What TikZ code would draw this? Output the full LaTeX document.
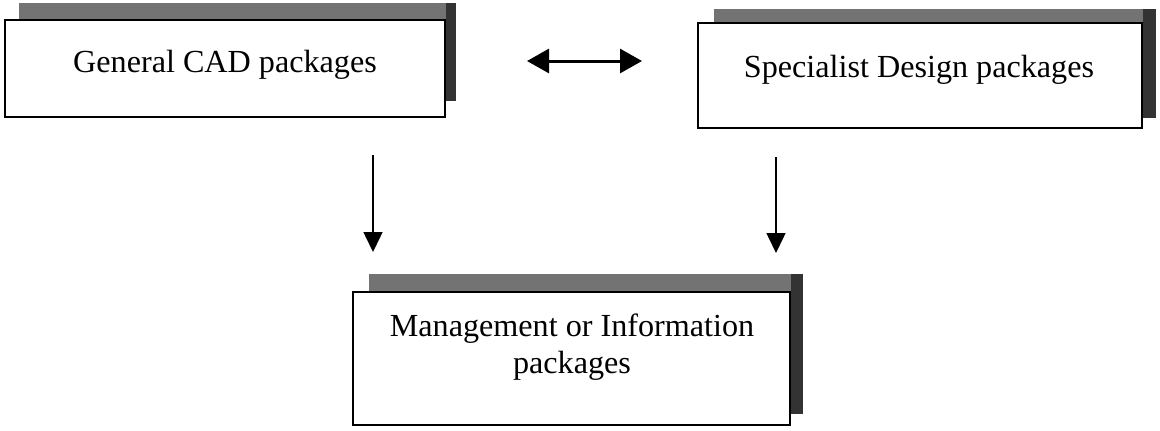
\documentclass[tikz,border=0pt]{standalone}
\usepackage{fontspec}
\setmainfont{Liberation Serif}
\usetikzlibrary{arrows.meta,backgrounds}

\tikzset{
  pkgbox/.style={draw, line width=0.3mm, fill=white, inner sep=0pt},
  pkgtext/.style={inner sep=0pt, font=\fontsize{18.3}{21}\selectfont, align=center},
  topshade/.style={fill=black!55},
  sideshade/.style={fill=black!80},
  linkarrow/.style={line width=0.3mm, -{Triangle[length=4mm,width=3.8mm]}},
  swaparrow/.style={line width=0.6mm, {Triangle[length=4.4mm,width=4.8mm]}-{Triangle[length=4.4mm,width=4.8mm]}}
}

\begin{document}
\begin{tikzpicture}[x=0.2mm, y=-0.2mm]
    \useasboundingbox (0,0) rectangle (1160,430);

    % Boxes
    \node[pkgbox, minimum width=88mm, minimum height=19.4mm] (cad) at (225,68.5) {};
    \node[pkgbox, minimum width=88.8mm, minimum height=21mm] (spec) at (920,75.5) {};
    \node[pkgbox, minimum width=87.4mm, minimum height=26.6mm] (mgmt) at (571.5,358.5) {};

    % Shadows behind the boxes
    \begin{scope}[on background layer]
        \fill[topshade] ([shift={(3mm,3.2mm)}]cad.north west) rectangle ([shift={(2mm,3.4mm)}]cad.south east);
        \fill[sideshade] ([yshift=3.2mm]cad.north east) rectangle ([shift={(2mm,3.4mm)}]cad.south east);
        \fill[topshade] ([shift={(3.4mm,2.6mm)}]spec.north west) rectangle ([shift={(2.6mm,2.2mm)}]spec.south east);
        \fill[sideshade] ([yshift=2.6mm]spec.north east) rectangle ([shift={(2.6mm,2.2mm)}]spec.south east);
        \fill[topshade] ([shift={(3.4mm,3.4mm)}]mgmt.north west) rectangle ([shift={(2.4mm,2.4mm)}]mgmt.south east);
        \fill[sideshade] ([yshift=3.4mm]mgmt.north east) rectangle ([shift={(2.4mm,2.4mm)}]mgmt.south east);
    \end{scope}

    % Box labels
    \node[pkgtext, anchor=base] (cadtxt) at (225,72) {General CAD packages};
    \node[pkgtext, anchor=base] (spectxt) at (919,77) {Specialist Design packages};
    \node[pkgtext] (mgmttxt) at (572,347) {Management or Information\\packages};

    % Arrow ends
    \coordinate (swapl) at (527,61);
    \coordinate (swapr) at (642,61);
    \coordinate (cadout) at (373,155);
    \coordinate (cadin) at (373,252);
    \coordinate (specout) at (776,157);
    \coordinate (specin) at (776,253);

    % Arrows
    \draw[swaparrow] (swapl) -- (swapr);
    \draw[linkarrow] (cadout) -- (cadin);
    \draw[linkarrow] (specout) -- (specin);
\end{tikzpicture}
\end{document}
